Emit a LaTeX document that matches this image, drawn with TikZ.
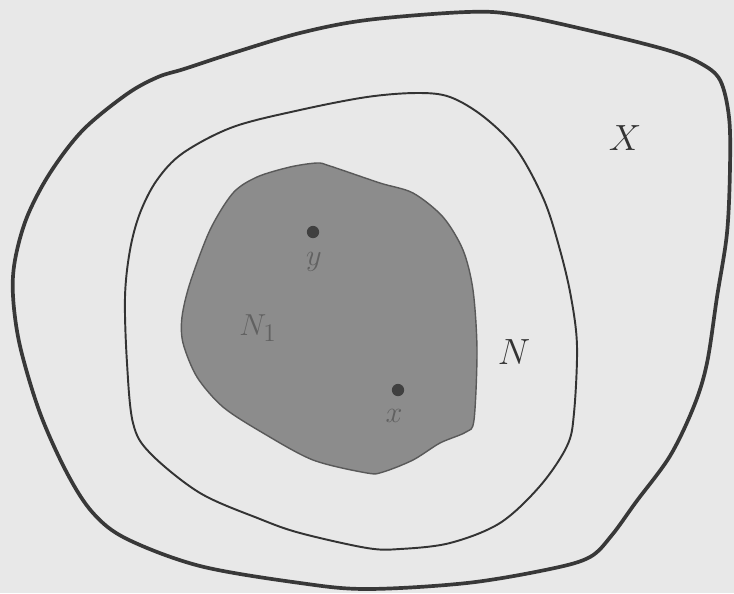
\documentclass[tikz,border=0pt]{standalone}
\begin{document}
\begin{tikzpicture}[x=0.02cm,y=-0.02cm,
  bg/.style={fill=black!9,draw=none},
  outerline/.style={draw=black!78,line width=2.1pt,line join=round},
  nline/.style={draw=black!80,line width=1.1pt},
  shaded/.style={fill=black!45,draw=black!65,line width=0.8pt},
  pointdot/.style={circle,fill=black!75,inner sep=0pt,minimum size=7pt},
  lbl/.style={font=\fontsize{20}{24}\selectfont,text=black!80,inner sep=0pt},
  lblin/.style={font=\fontsize{19}{24}\selectfont,text=black!62,inner sep=0pt}]
\useasboundingbox (0,0) rectangle (734,593);
\path[bg] (0,0) rectangle (734,593);
% outer set X
\path[outerline] plot[smooth cycle,tension=0.55] coordinates {
 (367,20) (467,12) (517,15) (600,33) (667,50) (700,63) (720,80) (729,117)
 (730,167) (727,233) (717,297) (707,363) (694,406) (670,456) (636,502)
 (612,535) (590,557) (550,569) (467,583) (367,589) (300,583) (200,566)
 (127,539) (93,513) (67,473) (40,413) (20,346) (13,296) (15,260)
 (27,217) (50,173) (83,130) (127,94) (158,77) (184,69) (233,53) (300,33)};
% neighbourhood N
\path[nline] plot[smooth cycle,tension=0.55] coordinates {
 (367,97) (417,93) (450,97) (484,117) (517,150) (544,200) (560,250)
 (571,297) (577,346) (574,413) (567,446) (540,486) (500,523) (450,543)
 (400,549) (367,548) (300,533) (260,519) (200,493) (150,453) (133,423)
 (127,363) (125,297) (130,250) (140,213) (157,180) (183,153) (233,127) (300,110)};
% N_1
\path[shaded] plot[smooth cycle,tension=0.5] coordinates {
 (317,163) (330,166) (380,183) (413,193) (443,217) (463,250) (473,290)
 (477,350) (474,420) (466,432) (440,443) (413,460) (383,472) (367,473) (313,460)
 (263,433) (223,407) (197,377) (183,343) (182,317) (190,283) (210,230)
 (233,193) (257,177) (290,167)};
\node[pointdot] (py) at (313,232) {};
\node[pointdot] (px) at (398,390) {};
\node[lblin] (ly) at (314,262) {$y$};
\node[lblin] (lx) at (394,416) {$x$};
\node[lblin] (lN1) at (258,328) {$N_1$};
\node[lbl] (lN) at (514,352) {$N$};
\node[lbl] (lX) at (625,138) {$X$};
\end{tikzpicture}
\end{document}
